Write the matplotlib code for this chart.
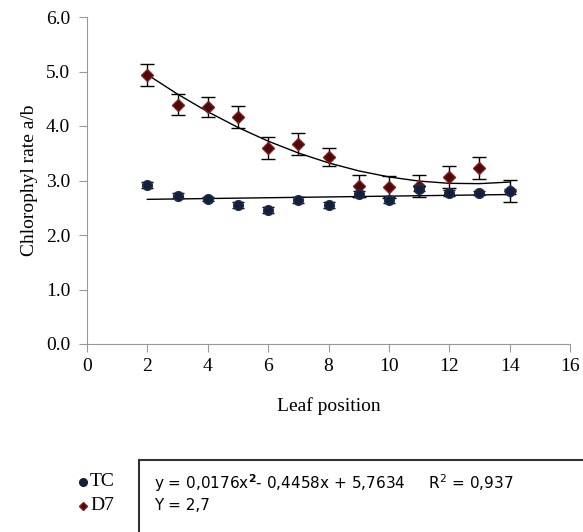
import matplotlib.pyplot as plt
import numpy as np
from matplotlib.patches import Rectangle

# leaf positions
leaf = [2, 3, 4, 5, 6, 7, 8, 9, 10, 11, 12, 13, 14]

# chlorophyll a/b ratio
tc = [2.92, 2.72, 2.66, 2.55, 2.46, 2.64, 2.55, 2.75, 2.64, 2.85, 2.77, 2.77, 2.80]
tc_err = [0.05, 0.05, 0.04, 0.05, 0.05, 0.05, 0.05, 0.05, 0.05, 0.05, 0.05, 0.04, 0.05]
d7 = [4.94, 4.39, 4.35, 4.17, 3.60, 3.67, 3.43, 2.90, 2.88, 2.90, 3.07, 3.23, 2.81]
d7_err = [0.20, 0.19, 0.18, 0.20, 0.20, 0.20, 0.17, 0.20, 0.20, 0.20, 0.20, 0.20, 0.20]

# trendline coefficients (as printed on the chart)
d7_fit = [0.0176, -0.4458, 5.7634]

plt.rcParams['font.family'] = ['Liberation Serif', 'DejaVu Serif']

fig = plt.figure(figsize=(5.83, 5.32), dpi=100)
ax = fig.add_axes([87 / 583, 1 - 344 / 532, (570 - 87) / 583, (344 - 17) / 532])

navy = '#14203a'
wine = '#4a0a0a'

ax.errorbar(leaf, d7, yerr=d7_err, fmt='D', color=wine, markeredgecolor='#8a1a1a',
            markersize=6.5, ecolor='black', elinewidth=1, capsize=5, capthick=1, zorder=3)
ax.errorbar(leaf, tc, yerr=tc_err, fmt='o', color=navy, markeredgecolor='#1e3050',
            markersize=7, ecolor='black', elinewidth=1, capsize=4, capthick=1, zorder=4)

xs = np.array(leaf, dtype=float)
ax.plot(xs, np.polyval(d7_fit, xs), color='black', lw=1, zorder=2)
lin = np.polyfit(leaf, tc, 1)
ax.plot([leaf[0], leaf[-1]], np.polyval(lin, [leaf[0], leaf[-1]]), color='black', lw=1, zorder=2)

ax.set_xlim(0, 16)
ax.set_ylim(0, 6)
ax.set_xticks(range(0, 17, 2))
ax.set_yticks(np.arange(0, 6.1, 1))
ax.set_yticklabels(['%.1f' % v for v in np.arange(0, 6.1, 1)])
for s in ['top', 'right']:
    ax.spines[s].set_visible(False)
for s in ['left', 'bottom']:
    ax.spines[s].set_color('#999999')
ax.tick_params(axis='both', colors='#999999', labelcolor='black', labelsize=14, length=6)
ax.tick_params(axis='y', pad=6)
ax.tick_params(axis='x', pad=4)
ax.set_xlabel('Leaf position', fontsize=14, labelpad=16)
ax.set_ylabel('Chlorophyl rate a/b', fontsize=14, labelpad=6)

# legend
fig.text(90 / 583, 1 - 482 / 532, 'TC', fontsize=14, va='center')
fig.text(90 / 583, 1 - 506 / 532, 'D7', fontsize=14, va='center')
fig.lines.append(plt.Line2D([83 / 583], [1 - 482 / 532], marker='o', color=navy, markersize=5.5,
                            transform=fig.transFigure, figure=fig))
fig.lines.append(plt.Line2D([83 / 583], [1 - 506 / 532], marker='D', color=wine, markersize=4.5,
                            markeredgecolor='#8a1a1a', transform=fig.transFigure, figure=fig))

# equation box
fig.patches.append(Rectangle((139 / 583, -0.05), 460 / 583, 1.05 - 460 / 532, transform=fig.transFigure,
                             fill=False, edgecolor='#333333', lw=1.5, figure=fig))
fig.text(154 / 583, 1 - 483 / 532, 'y = 0,0176x$^\\mathbf{2}$- 0,4458x + 5,7634     R$^2$ = 0,937',
         fontsize=11, va='center', family=['DejaVu Sans'])
fig.text(154 / 583, 1 - 506 / 532, 'Y = 2,7', fontsize=11, va='center', family=['DejaVu Sans'])

fig.savefig('out.png', dpi=100)
